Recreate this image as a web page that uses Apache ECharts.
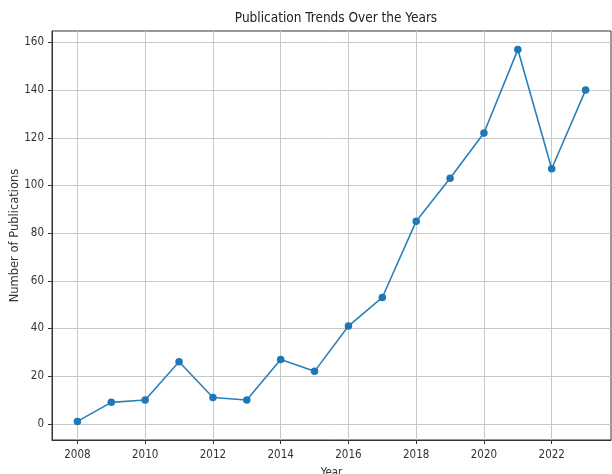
<!DOCTYPE html>
<html><head><meta charset="utf-8">
<script src="https://cdn.jsdelivr.net/npm/echarts@6/dist/echarts.min.js"></script>
<style>html,body{margin:0;padding:0;background:#fff}#c{width:612px;height:474px}</style>
</head><body><div id="c"></div>
<script>
const years = [2008,2009,2010,2011,2012,2013,2014,2015,2016,2017,2018,2019,2020,2021,2022,2023];
const publications = [1,9,10,26,11,10,27,22,41,53,85,103,122,157,107,140];
const xTicks = [2008,2010,2012,2014,2016,2018,2020,2022];
const yTicks = [0,20,40,60,80,100,120,140,160];

const font = '"DejaVu Sans Condensed", "DejaVu Sans", sans-serif';
const chart = echarts.init(document.getElementById('c'));
chart.setOption({
  animation: false,
  title: {
    text: 'Publication Trends Over the Years',
    left: 331, top: 6, textAlign: 'center',
    textStyle: {fontFamily: font, fontSize: 13.5, fontWeight: 'normal', color: '#222'}
  },
  grid: {left: 52, right: 1, top: 31, bottom: 34, containLabel: false, outerBoundsMode: 'none',
    show: true, borderColor: '#333', borderWidth: 1, backgroundColor: 'transparent'},
  xAxis: {
    type: 'value', min: 2007.25, max: 2023.75,
    name: 'Year', nameLocation: 'middle', nameGap: 27,
    nameTextStyle: {fontFamily: font, fontSize: 11.5, color: '#333'},
    axisLine: {show: true, onZero: false, lineStyle: {color: '#333'}},
    axisTick: {show: true, length: 4, customValues: xTicks, lineStyle: {color: '#333'}},
    axisLabel: {customValues: xTicks, formatter: v => String(v), fontFamily: font, fontSize: 11.5, color: '#333', margin: 9},
    splitLine: {show: true, customValues: xTicks, lineStyle: {color: '#c8c8c8', width: 1}}
  },
  yAxis: {
    type: 'value', min: -6.8, max: 164.8,
    name: 'Number of Publications', nameLocation: 'middle', nameGap: 31, nameRotate: 90,
    nameMoveOverlap: false,
    nameTextStyle: {fontFamily: '"DejaVu Sans", sans-serif', fontSize: 11.5, color: '#333'},
    axisLine: {show: true, onZero: false, lineStyle: {color: '#333'}},
    axisTick: {show: true, length: 4, customValues: yTicks, lineStyle: {color: '#333'}},
    axisLabel: {customValues: yTicks, formatter: v => String(v), fontFamily: font, fontSize: 11.5, color: '#333', margin: 8},
    splitLine: {show: true, customValues: yTicks, lineStyle: {color: '#c8c8c8', width: 1}}
  },
  series: [{
    type: 'line',
    data: years.map((y, i) => [y, publications[i]]),
    symbol: 'circle', symbolSize: 7.5,
    itemStyle: {color: '#1f77b4'},
    lineStyle: {color: '#2a80ba', width: 1.6}
  }]
});
</script></body></html>
